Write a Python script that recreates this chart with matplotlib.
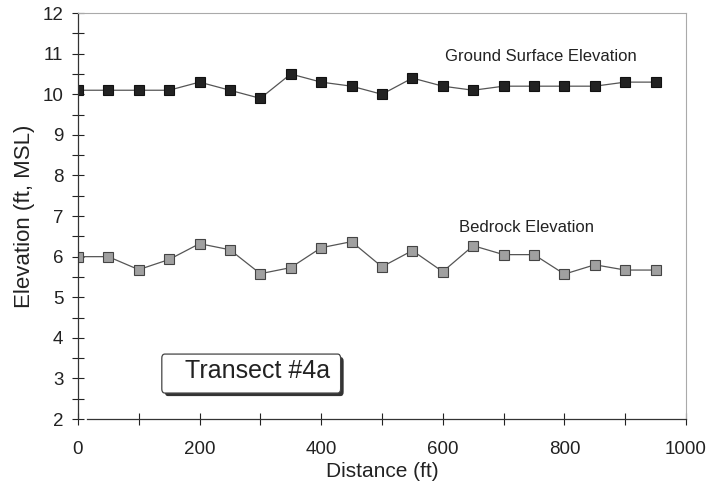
import numpy as np
import matplotlib.pyplot as plt
import matplotlib.patheffects as pe
from matplotlib.patches import FancyBboxPatch
from matplotlib.ticker import MultipleLocator

plt.rcParams['font.family'] = ['Liberation Sans', 'DejaVu Sans']

distance = [0, 50, 100, 150, 200, 250, 300, 350, 400, 450,
            500, 550, 600, 650, 700, 750, 800, 850, 900, 950]
ground = [10.1, 10.1, 10.1, 10.1, 10.3, 10.1, 9.9, 10.5, 10.3, 10.2,
          10.0, 10.4, 10.2, 10.1, 10.2, 10.2, 10.2, 10.2, 10.3, 10.3]
bedrock = [6.0, 6.0, 5.68, 5.93, 6.32, 6.17, 5.58, 5.73, 6.22, 6.37,
           5.75, 6.15, 5.63, 6.27, 6.05, 6.05, 5.57, 5.8, 5.67, 5.67]

fig = plt.figure(figsize=(7.08, 4.95), dpi=100)
ax = fig.add_axes([0.110, 0.1535, 0.859, 0.820])

ax.plot(distance, ground, color='#555555', lw=0.9, marker='s', ms=7,
        mfc='#222222', mec='#111111', mew=0.8)
ax.plot(distance, bedrock, color='#555555', lw=0.9, marker='s', ms=7,
        mfc='#a0a0a0', mec='#444444', mew=0.8)

ax.set_xlim(0, 1000)
ax.set_ylim(2, 12)
ax.xaxis.set_major_locator(MultipleLocator(200))
ax.xaxis.set_minor_locator(MultipleLocator(100))
ax.yaxis.set_major_locator(MultipleLocator(1))
ax.yaxis.set_minor_locator(MultipleLocator(0.5))
ax.tick_params(which='both', direction='inout', length=9, width=0.8, labelsize=13.5, colors='#222222')
ax.tick_params(axis='x', pad=11)
ax.tick_params(axis='y', pad=6)

for side in ['top', 'right']:
    ax.spines[side].set_color('#aaaaaa')
    ax.spines[side].set_linewidth(0.8)
for side in ['left', 'bottom']:
    ax.spines[side].set_color('#333333')
    ax.spines[side].set_linewidth(0.9)
ax.spines['bottom'].set_bounds(15, 1000)

ax.set_xlabel('Distance (ft)', fontsize=15, color='#222222', labelpad=3)
ax.set_ylabel('Elevation (ft, MSL)', fontsize=16, color='#222222', labelpad=5)

ax.text(604, 10.92, 'Ground Surface Elevation', fontsize=12, color='#222222', va='center')
ax.text(627, 6.73, 'Bedrock Elevation', fontsize=12, color='#222222', va='center')

# label box with drop shadow
box = FancyBboxPatch((138, 2.64), 294, 0.96, boxstyle='round,pad=0,rounding_size=5',
                     mutation_aspect=0.02, fc='white', ec='#444444', lw=0.9, zorder=3)
box.set_path_effects([pe.SimplePatchShadow(offset=(2.2, -2.2), shadow_rgbFace='#333333', alpha=1),
                      pe.Normal()])
ax.add_patch(box)
ax.text(296, 3.01, 'Transect #4a', fontsize=18, color='#222222', ha='center', va='baseline', zorder=4)

fig.savefig('out.png', dpi=100)
